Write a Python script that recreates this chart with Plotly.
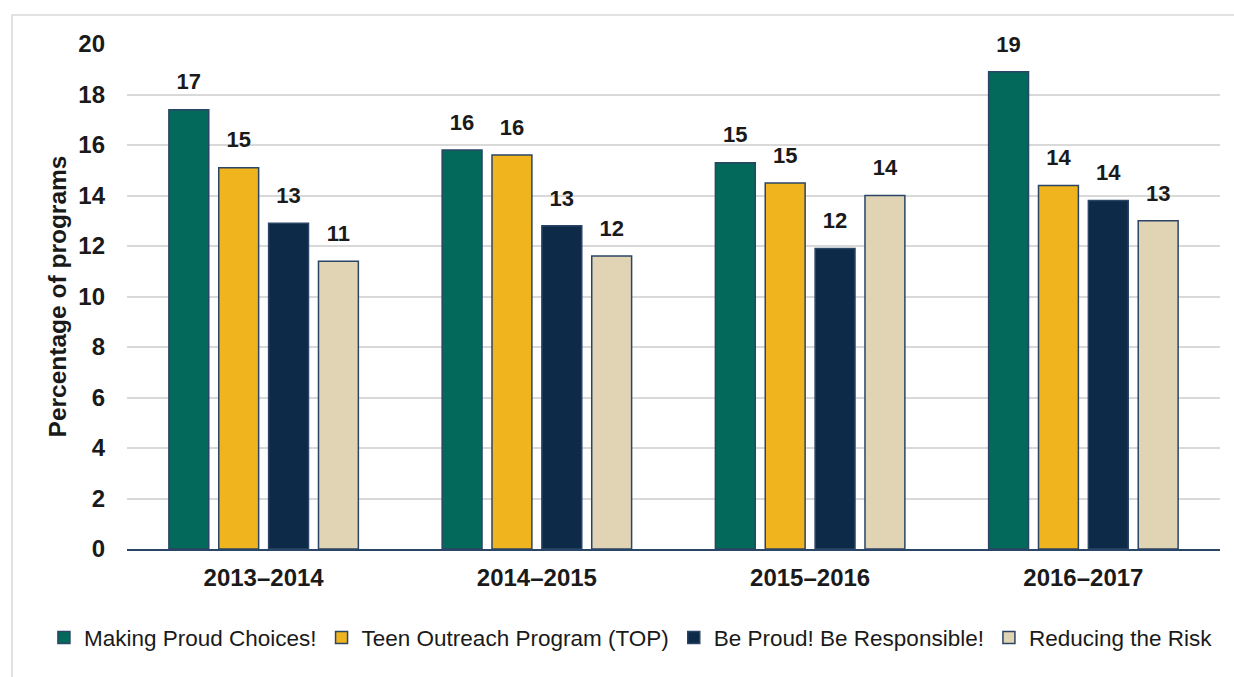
import plotly.graph_objects as go

years = ["2013–2014", "2014–2015", "2015–2016", "2016–2017"]
series_names = ["Making Proud Choices!", "Teen Outreach Program (TOP)",
                "Be Proud! Be Responsible!", "Reducing the Risk"]
making_proud = [17.4, 15.8, 15.3, 18.9]
teen_outreach = [15.1, 15.6, 14.5, 14.4]
be_proud = [12.9, 12.8, 11.9, 13.8]
reducing_risk = [11.4, 11.6, 14.0, 13.0]
labels_making = ["17", "16", "15", "19"]
labels_teen = ["15", "16", "15", "14"]
labels_proud = ["13", "13", "12", "14"]
labels_risk = ["11", "12", "14", "13"]
y_ticks = [0, 2, 4, 6, 8, 10, 12, 14, 16, 18, 20]

values = [making_proud, teen_outreach, be_proud, reducing_risk]
labels = [labels_making, labels_teen, labels_proud, labels_risk]
colors = ["#03695A", "#F0B51E", "#0D2A48", "#E0D4B4"]
outline = "#2A4566"
FONT = "Liberation Sans, Arial, sans-serif"
TXT = "#1a1a1a"

fig = go.Figure()
for i, (name, vals, col) in enumerate(zip(series_names, values, colors)):
    fig.add_trace(go.Bar(
        x=years, y=vals, name=name, offsetgroup=str(i),
        marker=dict(color=col, line=dict(color=outline, width=1.5)),
        hoverinfo="skip",
    ))
for i, (vals, labs) in enumerate(zip(values, labels)):
    fig.add_trace(go.Scatter(
        x=years, y=vals, text=labs, mode="markers+text", offsetgroup=str(i),
        marker=dict(size=22, opacity=0), textposition="top center",
        textfont=dict(family=FONT, size=22, color=TXT, weight="bold"),
        showlegend=False, hoverinfo="skip", cliponaxis=False,
    ))

fig.update_layout(
    width=1234, height=677,
    margin=dict(l=127, r=14, t=44, b=128, autoexpand=False),
    paper_bgcolor="white", plot_bgcolor="white",
    barmode="group", bargap=0.27, bargroupgap=0.2,
    scattermode="group", scattergap=0.27,
    font=dict(family=FONT, color=TXT),
    legend=dict(orientation="h", xref="paper", yref="paper",
                x=-0.076, xanchor="left", y=-0.176, yanchor="middle",
                font=dict(family=FONT, size=22.5, color=TXT),
                itemwidth=30, traceorder="normal"),
    showlegend=True,
)
fig.update_yaxes(
    range=[0, 20], tickvals=y_ticks, showgrid=True, gridcolor="#D9D9D9", gridwidth=1.5,
    zeroline=False, showline=False, ticks="",
    tickfont=dict(family=FONT, size=24, color=TXT, weight="bold"),
    ticklabelstandoff=21,
    title=dict(text="Percentage of programs", standoff=4,
               font=dict(family=FONT, size=24.5, color=TXT, weight="bold")),
)
fig.update_xaxes(
    showline=True, linecolor=outline, linewidth=1.5, ticks="",
    tickfont=dict(family=FONT, size=24, color=TXT, weight="bold"),
    ticklabelstandoff=6,
)
# light frame around the chart
fig.add_shape(type="rect", xref="paper", yref="paper",
              x0=-0.1052, x1=1.2, y0=-0.4, y1=1.0574,
              line=dict(color="#D9D9D9", width=1.5), fillcolor="rgba(0,0,0,0)",
              layer="below")

fig.write_html("out.html", config={"displayModeBar": False},
               post_script="document.body.style.margin='0px';")
